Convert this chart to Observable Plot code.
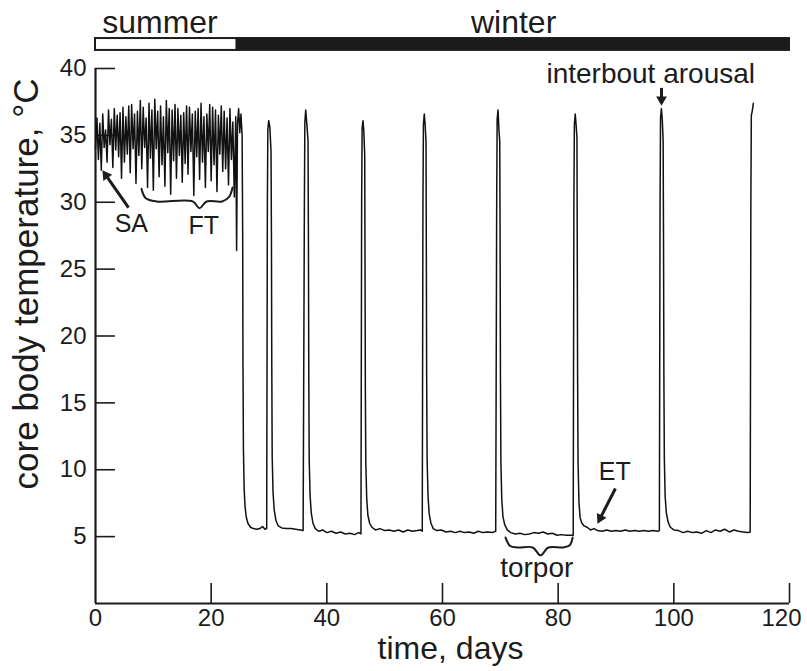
<!DOCTYPE html>
<html>
<head>
<meta charset="utf-8">
<script src="https://cdn.jsdelivr.net/npm/d3@7"></script>
<script src="https://cdn.jsdelivr.net/npm/@observablehq/plot@0.6"></script>
<style>
  html, body { margin: 0; padding: 0; background: #fff; }
</style>
</head>
<body>
<div id="chart"></div>
<script>
// Summer trace: core body temperature sampled every 0.25 day from day 0
const summerStep = 0.25;
const summerTemps = [
  34.0, 36.3, 33.2, 35.9,
  32.4, 36.6, 34.1, 35.4,
  33.0, 36.9, 34.3, 36.2,
  32.6, 37.0, 33.9, 36.5,
  33.4, 36.7, 31.8, 37.1,
  33.0, 36.4, 33.6, 37.2,
  32.2, 37.3, 34.0, 36.6,
  31.4, 36.8, 33.5, 37.6,
  32.5, 37.1, 34.1, 36.3,
  31.1, 37.4, 33.3, 36.9,
  30.9, 37.7, 34.0, 36.8,
  31.9, 37.2, 32.8, 36.4,
  31.2, 37.6, 33.7, 37.0,
  30.6, 36.9, 33.1, 37.3,
  31.8, 37.0, 33.5, 36.5,
  31.5, 36.7, 32.9, 37.2,
  32.1, 37.1, 33.8, 36.6,
  30.5, 36.8, 33.4, 37.0,
  31.7, 37.4, 33.0, 36.4,
  31.1, 36.6, 33.8, 37.3,
  31.6, 37.1, 32.8, 36.9,
  30.8, 36.5, 33.6, 37.2,
  32.3, 36.8, 32.5, 36.3,
  31.3, 37.0, 33.2, 36.0,
  30.4, 36.4
];

// Winter trace: [day, temperature] pairs (torpor bouts and interbout arousals)
const winterTrace = [
  [24.4,26.4],[24.55,35.8],[24.75,37.0],[24.95,35.2],[25.15,36.6],[25.35,35.0],[25.45,27.5],[25.5,18],[25.58,11.5],[25.7,8.6],[25.85,7.3],[26.05,6.5],[26.35,6.0],[26.8,5.7],[27.3,5.6],[27.9,5.55],[28.4,5.6],[28.9,5.75],[29.3,5.55],[29.6,5.6],
  [29.72,30],[29.8,35.4],[29.95,36.1],[30.15,35.6],[30.35,33.8],[30.42,27.7],[30.48,18],[30.55,11.0],[30.7,8.3],[30.9,7.0],[31.2,6.2],[31.6,5.8],[32.2,5.65],[33,5.6],[33.8,5.6],[34.6,5.55],[35.4,5.5],[35.9,5.45],
  [36.12,30],[36.2,36.0],[36.35,36.9],[36.55,35.8],[36.75,34.6],[36.82,27],[36.88,17],[36.95,10.8],[37.1,8.1],[37.3,6.8],[37.6,6.0],[38,5.6],[38.6,5.4],[39.3,5.5],[40,5.3],[40.8,5.4],[41.6,5.25],[42.4,5.35],[43.2,5.2],[44,5.25],[44.8,5.15],[45.5,5.3],[45.9,5.2],
  [46.02,30],[46.1,35.5],[46.25,36.1],[46.4,35.3],[46.55,33.5],[46.6,26],[46.66,16],[46.74,10.5],[46.9,7.8],[47.1,6.6],[47.4,6.0],[47.8,5.7],[48.4,5.5],[49.2,5.6],[50,5.45],[50.8,5.5],[51.6,5.4],[52.4,5.5],[53.2,5.35],[54,5.5],[54.8,5.4],[55.6,5.45],[56.2,5.5],[56.5,5.4],
  [56.62,30],[56.7,35.8],[56.85,36.6],[57.0,35.8],[57.15,34.5],[57.2,27],[57.26,17],[57.34,10.8],[57.5,8],[57.7,6.7],[58,6.0],[58.4,5.6],[59,5.45],[59.8,5.5],[60.6,5.35],[61.4,5.4],[62.2,5.3],[63,5.4],[63.8,5.3],[64.6,5.35],[65.4,5.25],[66.2,5.4],[67,5.3],[67.8,5.35],[68.6,5.3],[69.2,5.4],
  [69.37,30],[69.45,36.2],[69.6,36.9],[69.75,35.5],[69.9,34.5],[69.96,27],[70.02,17],[70.1,10.5],[70.25,7.8],[70.45,6.5],[70.75,5.9],[71.2,5.5],[71.8,5.3],[72.6,5.2],[73.4,5.25],[74.2,5.15],[75,5.2],[75.8,5.3],[76.6,5.25],[77.4,5.35],[78.2,5.2],[79,5.25],[79.8,5.1],[80.6,5.15],[81.4,5.1],[82.2,5.1],[82.6,5.1],
  [82.72,30],[82.8,35.8],[82.95,36.6],[83.1,35.8],[83.25,34.8],[83.3,27],[83.36,17],[83.44,10.5],[83.6,7.5],[83.8,6.4],[84.1,6.0],[84.5,5.8],[85,5.7],[85.6,5.5],[86.2,5.6],[86.8,5.45],[87.6,5.4],[88.4,5.5],[89.2,5.4],[90,5.45],[90.8,5.4],[91.6,5.5],[92.4,5.4],[93.2,5.45],[94,5.4],[94.8,5.45],[95.6,5.4],[96.4,5.45],[97.2,5.4],[97.5,5.45],
  [97.62,30],[97.7,36.3],[97.85,37.0],[98.0,36.2],[98.15,34.6],[98.22,27],[98.28,17],[98.36,10.8],[98.5,8],[98.7,6.8],[99,6.1],[99.4,5.7],[100,5.5],[100.8,5.45],[101.6,5.3],[102.4,5.4],[103.2,5.3],[104,5.35],[104.8,5.25],[105.6,5.45],[106.4,5.3],[107.2,5.5],[108,5.4],[108.8,5.55],[109.6,5.35],[110.4,5.5],[111.2,5.4],[112,5.35],[112.8,5.3],[113.2,5.35],
  [113.32,30],[113.4,36.5],[113.55,36.8],[113.75,37.4]
];

// Season bar
const seasons = [
  {name: "summer", start: 0, end: 24.5, labelDay: 11.15},
  {name: "winter", start: 24.5, end: 120, labelDay: 72.3}
];

// Axis ticks
const xTicks = [0, 20, 40, 60, 80, 100, 120];
const yTicks = [5, 10, 15, 20, 25, 30, 35, 40];

// Annotations
const annotationLabels = [
  {label: "SA", day: 6.2, temp: 28.35, size: 25},
  {label: "FT", day: 18.7, temp: 28.2, size: 25},
  {label: "torpor", day: 76.3, temp: 2.62, size: 28},
  {label: "ET", day: 89.8, temp: 9.8, size: 25},
  {label: "interbout arousal", day: 96.0, temp: 39.55, size: 28}
];
// shaft from (day1,temp1) to the head centre (day2,temp2); angle = head direction
const annotationArrows = [
  {day1: 5.71, temp1: 29.6, day2: 1.81, temp2: 32.01, angle: -35},
  {day1: 89.9, temp1: 8.6, day2: 87.28, temp2: 6.38, angle: -153},
  {day1: 97.87, temp1: 38.55, day2: 97.87, temp2: 37.68, angle: 180}
];
const braceFT = [
  [7.95, 31.0], [8.7, 30.3], [10.6, 30.06], [16.8, 30.06], [17.98, 29.55],
  [19.2, 30.06], [21.9, 30.06], [23.1, 30.4], [23.7, 31.1]
];
const braceTorpor = [
  [70.9, 4.93], [71.7, 4.3], [73.0, 4.19], [75.6, 4.19], [76.95, 3.6],
  [78.3, 4.19], [80.9, 4.19], [82.0, 4.35], [82.5, 4.93]
];

const trace = [
  ...summerTemps.map((t, i) => ({day: i * summerStep, temp: t})),
  ...winterTrace.map(([d, t]) => ({day: d, temp: t}))
];

const font = "'Liberation Sans', Arial, sans-serif";
const ink = "#1c1c1c";
const lastX = xTicks[xTicks.length - 1];

const chart = Plot.plot({
  width: 807,
  height: 671,
  marginLeft: 95,
  marginRight: 18,
  marginTop: 68,
  marginBottom: 68,
  x: {domain: [0, 120]},
  y: {domain: [0, 40]},
  style: {fontFamily: font, fontSize: "24px", color: ink, background: "#fff", overflow: "visible"},
  marks: [
    // season bar
    Plot.rect(seasons, {x1: "start", x2: "end", y1: 41.35, y2: 42.24,
      fill: d => d.name === "summer" ? "#fff" : ink, stroke: ink, strokeWidth: 2}),
    Plot.text(seasons, {x: "labelDay", y: 43.44, text: "name", fontSize: 32, fill: ink}),
    // axes
    Plot.axisY(yTicks, {tickSize: 0, tickPadding: 9, fontSize: 24, label: null}),
    Plot.axisX(xTicks.filter(t => t !== lastX), {tickSize: 0, tickPadding: 5, fontSize: 24, label: null}),
    Plot.axisX([lastX], {tickSize: 0, tickPadding: 5, fontSize: 24, label: null, dx: -8}),
    Plot.ruleY(yTicks, {x1: 0, x2: 3.45, stroke: ink, strokeWidth: 1.6}),
    Plot.ruleX(xTicks.slice(1), {y1: 0, y2: 1.5, stroke: ink, strokeWidth: 1.6}),
    Plot.ruleX([0], {y1: 0, y2: 40, stroke: ink, strokeWidth: 2.2}),
    Plot.ruleY([0], {x1: 0, x2: 120, stroke: ink, strokeWidth: 2.2}),
    // axis titles
    Plot.text(["core body temperature, °C"], {frameAnchor: "left", textAnchor: "middle", lineAnchor: "middle",
      dx: -69, dy: -52, rotate: -90, fontSize: 35, fill: ink}),
    Plot.text(["time, days"], {frameAnchor: "bottom", textAnchor: "middle", lineAnchor: "middle",
      dx: 8, dy: 45, fontSize: 32, fill: ink}),
    // temperature trace
    Plot.line(trace, {x: "day", y: "temp", stroke: "#111", strokeWidth: 1.5}),
    // annotations
    Plot.line(braceFT, {x: "0", y: "1", curve: "catmull-rom", stroke: ink, strokeWidth: 2}),
    Plot.line(braceTorpor, {x: "0", y: "1", curve: "catmull-rom", stroke: ink, strokeWidth: 2}),
    Plot.link(annotationArrows, {x1: "day1", y1: "temp1", x2: "day2", y2: "temp2", stroke: ink, strokeWidth: 3}),
    Plot.dot(annotationArrows, {x: "day2", y: "temp2", symbol: "triangle", r: 4, rotate: "angle", fill: ink, stroke: "none"}),
    Plot.text(annotationLabels, {x: "day", y: "temp", text: "label", fontSize: d => d.size, fill: ink})
  ]
});
document.getElementById("chart").appendChild(chart);
</script>
</body>
</html>
